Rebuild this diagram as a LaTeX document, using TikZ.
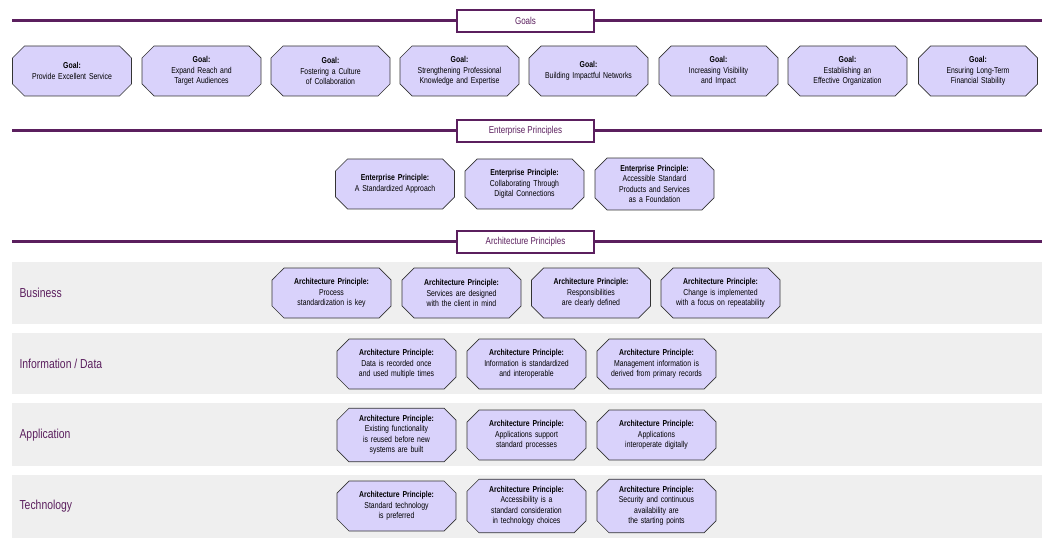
\documentclass[tikz,border=0pt]{standalone}
\usepackage{fontspec}
\setmainfont{Liberation Sans}[FakeStretch=0.8]
\usetikzlibrary{shapes.misc}
\definecolor{plum}{HTML}{5B1F5E}
\definecolor{lav}{HTML}{D9D2FB}
\definecolor{band}{HTML}{EFEFEF}
\begin{document}
\hyphenpenalty=10000 \exhyphenpenalty=10000
\begin{tikzpicture}[x=1pt,y=-1pt,
 box/.style={chamfered rectangle,chamfered rectangle xsep=2cm,chamfered rectangle sep=6pt,draw=black!80,fill=lav,line width=0.7pt,minimum width=119pt,minimum height=50pt,text width=94pt,align=center,font=\fontsize{8.6}{10.5}\selectfont,inner sep=1pt},
 ttl/.style={draw=plum,line width=2pt,fill=white,minimum width=137pt,minimum height=22pt,font=\fontsize{10}{12}\selectfont,text=plum},
 rule/.style={draw=plum,line width=3pt},
 lbl/.style={anchor=west,font=\fontsize{13}{15}\selectfont,text=plum}]
\useasboundingbox (0,0) rectangle (1051,545);
% Goals
\coordinate (g1) at (12,21); \coordinate (g2) at (1042,21);
\draw[rule] (g1) -- (g2);
\node[ttl] (tg) at (525.5,21) {Goals};
\foreach \x/\t [count=\i] in {72/{Provide Excellent Service},201.5/{Expand Reach and Target Audiences},330.5/{Fostering a Culture of Collaboration},459.5/{Strengthening Professional Knowledge and Expertise},588.5/{Building Impactful Networks},718.5/{Increasing Visibility and Impact},847.5/{Establishing an Effective Organization},978/{Ensuring Long-Term Financial Stability}}
  \node[box] (goal\i) at (\x,71) {\textbf{Goal:}\\\t};
% Enterprise
\coordinate (e1) at (12,131); \coordinate (e2) at (1042,131);
\draw[rule] (e1) -- (e2);
\node[ttl] (te) at (525.5,131) {Enterprise Principles};
\foreach \x/\t [count=\i] in {395/{A Standardized Approach},524.5/{Collaborating Through Digital Connections},654.5/{Accessible Standard Products and Services as a Foundation}}
  \node[box] (ep\i) at (\x,184) {\textbf{Enterprise Principle:}\\\t};
% Architecture
\coordinate (a1) at (12,242); \coordinate (a2) at (1042,242);
\draw[rule] (a1) -- (a2);
\node[ttl] (ta) at (525.5,242) {Architecture Principles};
\fill[band] (12,262) rectangle (1042,324);
\fill[band] (12,333) rectangle (1042,394);
\fill[band] (12,403) rectangle (1042,466);
\fill[band] (12,475) rectangle (1042,538);
\node[lbl] (lb) at (16,293) {Business};
\node[lbl] (li) at (16,364) {Information / Data};
\node[lbl] (la) at (16,435) {Application};
\node[lbl] (lt) at (16,506) {Technology};
\foreach \x/\t [count=\i] in {331.5/{Process standardization is key},461.5/{Services are designed with the client in mind},591/{Responsibilities are clearly defined},720.5/{Change is implemented with a focus on repeatability}}
  \node[box] (b\i) at (\x,293) {\textbf{Architecture Principle:}\\\t};
\foreach \x/\t [count=\i] in {396.5/{Data is recorded once and used multiple times},526.5/{Information is standardized and interoperable},656.5/{Management information is derived from primary records}}
  \node[box] (d\i) at (\x,364) {\textbf{Architecture Principle:}\\\t};
\foreach \x/\t [count=\i] in {396.5/{Existing functionality is reused before new systems are built},526.5/{Applications support standard processes},656.5/{Applications interoperate digitally}}
  \node[box] (p\i) at (\x,435) {\textbf{Architecture Principle:}\\\t};
\foreach \x/\t [count=\i] in {396.5/{Standard technology is preferred},526.5/{Accessibility is a standard consideration in technology choices},656.5/{Security and continuous availability are the starting points}}
  \node[box] (t\i) at (\x,506) {\textbf{Architecture Principle:}\\\t};
\end{tikzpicture}
\end{document}
